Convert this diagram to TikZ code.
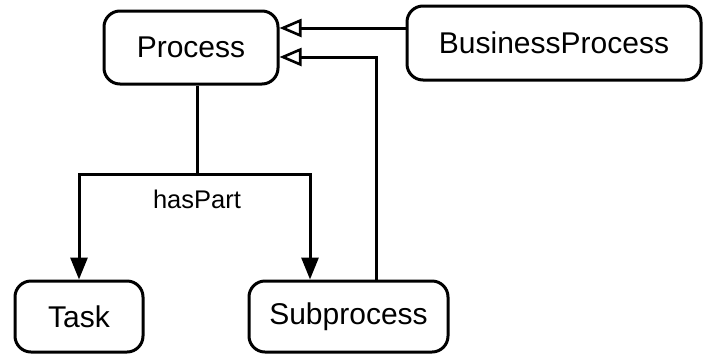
\documentclass[tikz,border=0pt]{standalone}
\usepackage{fontspec}
\setmainfont{Liberation Sans}
\usetikzlibrary{arrows.meta}
\begin{document}
\begin{tikzpicture}[x=1pt,y=-1pt,
  box/.style={draw,line width=3pt,rounded corners=16pt,inner sep=0pt,font=\fontsize{30}{34}\selectfont},
  conn/.style={line width=3pt},
  isa/.style={conn,-{Triangle[open,length=22pt,width=18pt,line width=2.6pt]}},
  part/.style={conn,-{Triangle[length=22pt,width=17pt]}},
  lbl/.style={font=\fontsize{25.5}{30}\selectfont}]
\useasboundingbox (0,0) rectangle (703,357);
\node[box,minimum width=174pt,minimum height=73pt] (P) at (191,47.5) {Process};
\node[box,minimum width=294pt,minimum height=74pt] (B) at (554,43) {BusinessProcess};
\node[box,minimum width=128pt,minimum height=71pt] (T) at (79,316.5) {Task};
\node[box,minimum width=199pt,minimum height=71pt] (S) at (348.5,316.5) {Subprocess};
\coordinate (J) at (197,174);
\draw[conn] (P.south -| J) -- (J);
\draw[part] (J) -| (T.north);
\draw[part] (J) -| (S.north -| 310,0);
\node[lbl] (L) at (197,199) {hasPart};
\draw[isa] (B.west |- 0,28) -- (P.east |- 0,28);
\draw[isa] (S.north -| 376,0) |- (P.east |- 0,57);
\end{tikzpicture}
\end{document}
